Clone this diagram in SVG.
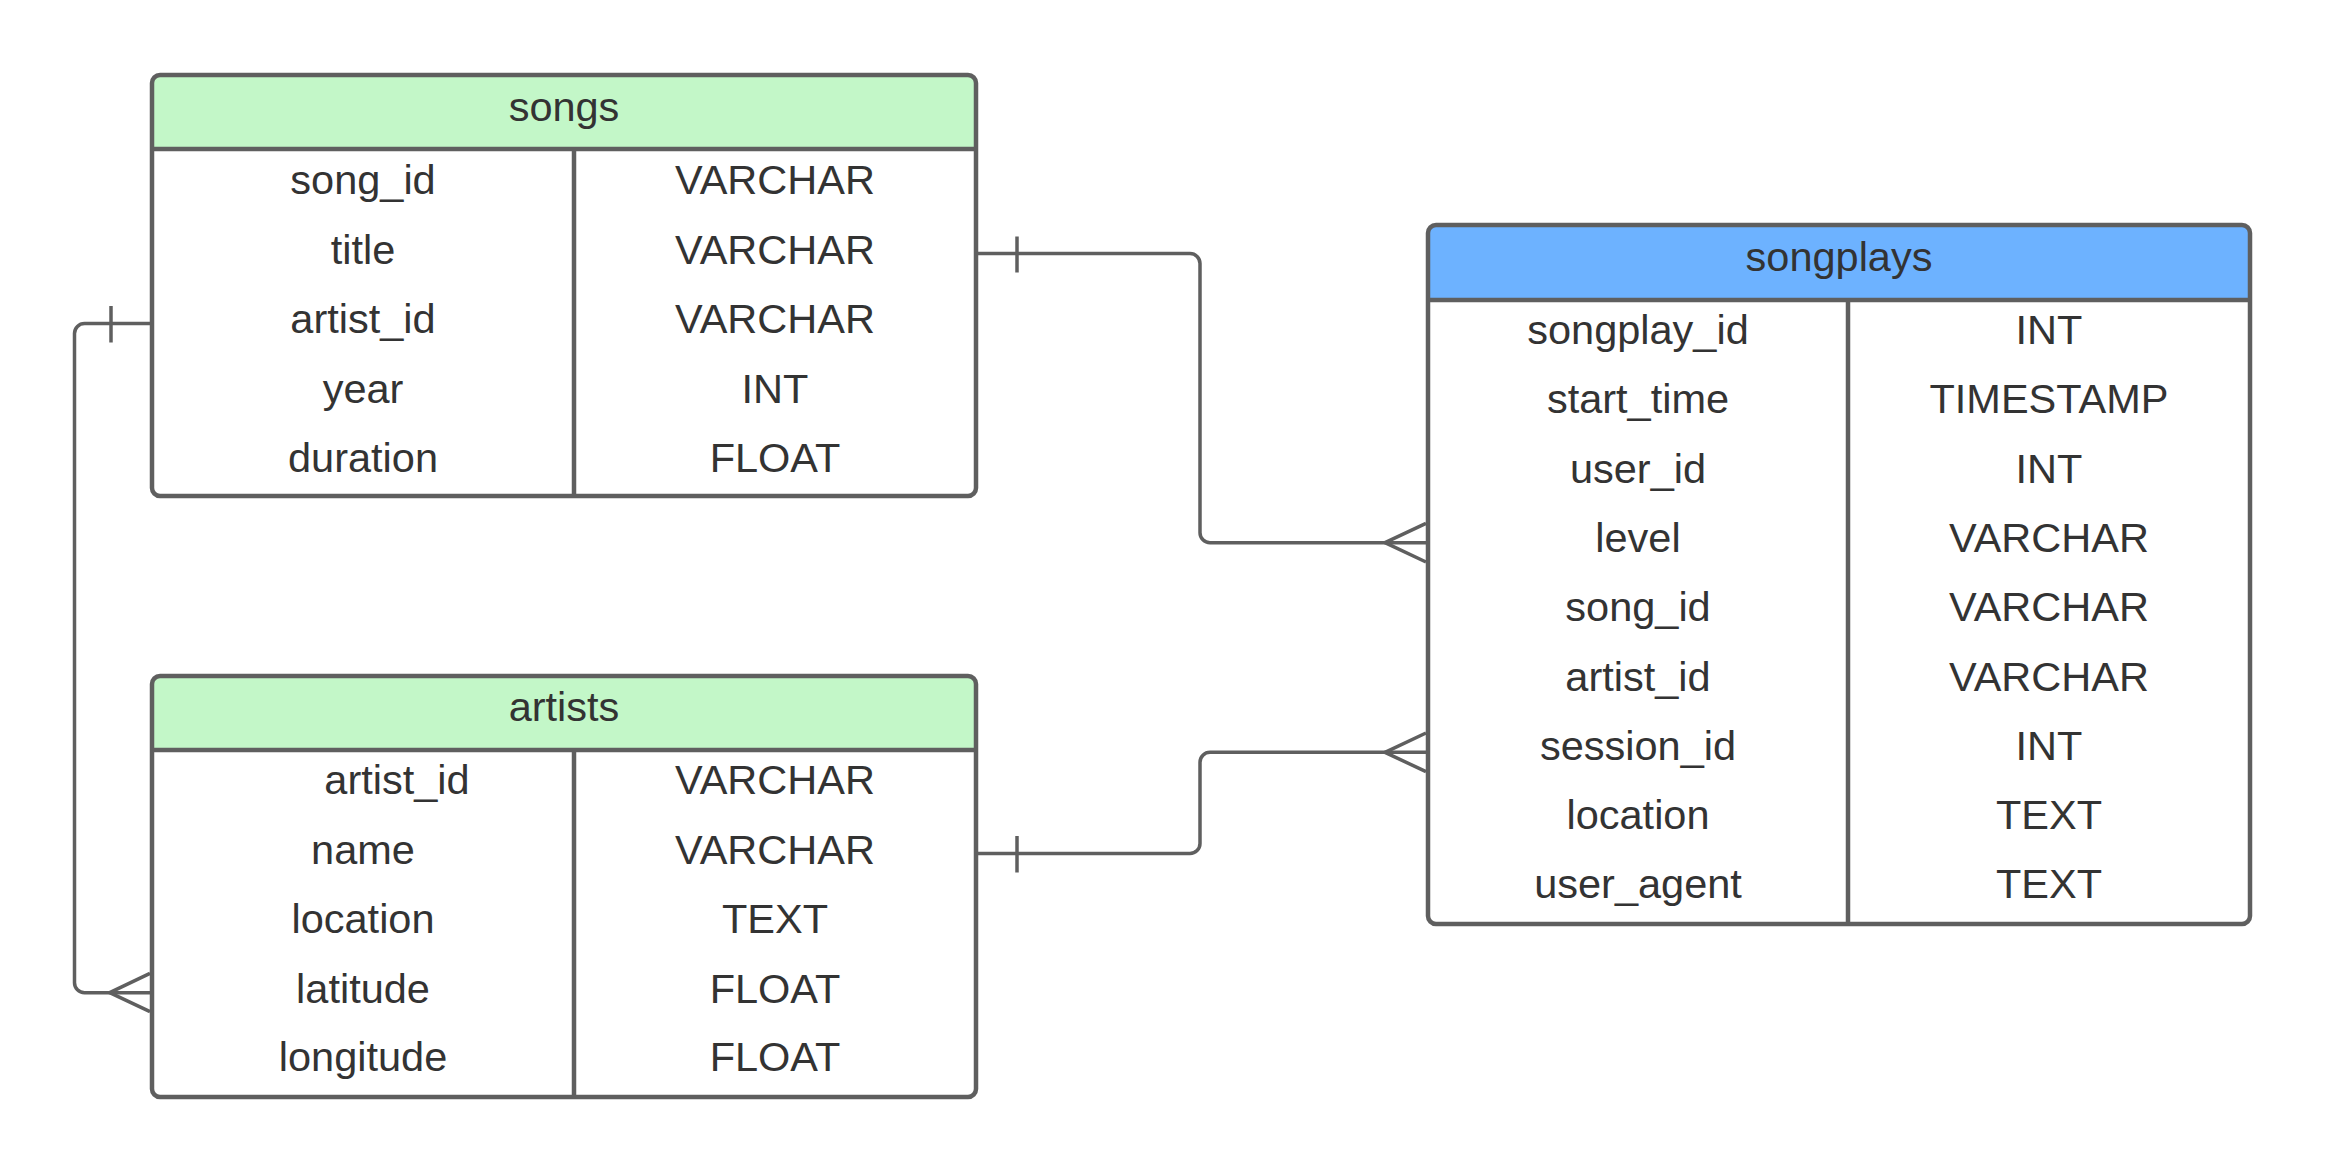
<svg xmlns="http://www.w3.org/2000/svg" width="2329" height="1172" viewBox="0 0 2329 1172">
<style>
.t{font-family:"Liberation Sans",Arial,sans-serif;font-size:41.5px;fill:#333333;text-anchor:middle}
.box{fill:none;stroke:#5f5f5f;stroke-width:4.5}
.ln{fill:none;stroke:#5f5f5f;stroke-width:4.5}
.cn{fill:none;stroke:#5f5f5f;stroke-width:3.5;stroke-linejoin:round}
</style>
<rect width="2329" height="1172" fill="#ffffff"/>
<g id="songs">
<rect x="152" y="75" width="824" height="421" rx="8" fill="#ffffff"/>
<path d="M152,149 V83 a8,8 0 0 1 8,-8 H968 a8,8 0 0 1 8,8 V149 Z" fill="#c3f7c8"/>
<rect class="box" x="152" y="75" width="824" height="421" rx="8"/>
<line class="ln" x1="152" y1="149" x2="976" y2="149"/>
<line class="ln" x1="574" y1="149" x2="574" y2="496"/>
<text class="t" x="564" y="121">songs</text>
<text class="t" x="363" y="194">song_id</text><text class="t" x="775" y="194">VARCHAR</text>
<text class="t" x="363" y="263.5">title</text><text class="t" x="775" y="263.5">VARCHAR</text>
<text class="t" x="363" y="333">artist_id</text><text class="t" x="775" y="333">VARCHAR</text>
<text class="t" x="363" y="402.5">year</text><text class="t" x="775" y="402.5">INT</text>
<text class="t" x="363" y="472">duration</text><text class="t" x="775" y="472">FLOAT</text>
</g>
<g id="artists">
<rect x="152" y="676" width="824" height="421" rx="8" fill="#ffffff"/>
<path d="M152,750 V684 a8,8 0 0 1 8,-8 H968 a8,8 0 0 1 8,8 V750 Z" fill="#c3f7c8"/>
<rect class="box" x="152" y="676" width="824" height="421" rx="8"/>
<line class="ln" x1="152" y1="750" x2="976" y2="750"/>
<line class="ln" x1="574" y1="750" x2="574" y2="1097"/>
<text class="t" x="564" y="721">artists</text>
<text class="t" x="397" y="794">artist_id</text><text class="t" x="775" y="794">VARCHAR</text>
<text class="t" x="363" y="863.5">name</text><text class="t" x="775" y="863.5">VARCHAR</text>
<text class="t" x="363" y="933">location</text><text class="t" x="775" y="933">TEXT</text>
<text class="t" x="363" y="1002.5">latitude</text><text class="t" x="775" y="1002.5">FLOAT</text>
<text class="t" x="363" y="1071">longitude</text><text class="t" x="775" y="1071">FLOAT</text>
</g>
<g id="songplays">
<rect x="1428" y="225" width="822" height="699" rx="8" fill="#ffffff"/>
<path d="M1428,300 V233 a8,8 0 0 1 8,-8 H2242 a8,8 0 0 1 8,8 V300 Z" fill="#6db2ff"/>
<rect class="box" x="1428" y="225" width="822" height="699" rx="8"/>
<line class="ln" x1="1428" y1="300" x2="2250" y2="300"/>
<line class="ln" x1="1848" y1="300" x2="1848" y2="924"/>
<text class="t" x="1839" y="271">songplays</text>
<text class="t" x="1638" y="344">songplay_id</text><text class="t" x="2049" y="344">INT</text>
<text class="t" x="1638" y="413.3">start_time</text><text class="t" x="2049" y="413.3">TIMESTAMP</text>
<text class="t" x="1638" y="482.6">user_id</text><text class="t" x="2049" y="482.6">INT</text>
<text class="t" x="1638" y="551.9">level</text><text class="t" x="2049" y="551.9">VARCHAR</text>
<text class="t" x="1638" y="621.2">song_id</text><text class="t" x="2049" y="621.2">VARCHAR</text>
<text class="t" x="1638" y="690.5">artist_id</text><text class="t" x="2049" y="690.5">VARCHAR</text>
<text class="t" x="1638" y="759.8">session_id</text><text class="t" x="2049" y="759.8">INT</text>
<text class="t" x="1638" y="829.1">location</text><text class="t" x="2049" y="829.1">TEXT</text>
<text class="t" x="1638" y="898.4">user_agent</text><text class="t" x="2049" y="898.4">TEXT</text>
</g>
<g id="connectors">
<path class="cn" d="M976,253.5 H1190 a10,10 0 0 1 10,10 V532.7 a10,10 0 0 0 10,10 H1426"/>
<line class="cn" x1="1017" y1="236.5" x2="1017" y2="272.5"/>
<path class="cn" d="M1426,523.3 L1385,542.7 L1426,562"/>
<path class="cn" d="M976,853.5 H1190 a10,10 0 0 0 10,-10 V762.3 a10,10 0 0 1 10,-10 H1426"/>
<line class="cn" x1="1017" y1="836" x2="1017" y2="872.5"/>
<path class="cn" d="M1426,733 L1385,752.3 L1426,771.7"/>
<path class="cn" d="M152,323.5 H84.5 a10,10 0 0 0 -10,10 V982.7 a10,10 0 0 0 10,10 H150"/>
<line class="cn" x1="111" y1="306" x2="111" y2="342.5"/>
<path class="cn" d="M150,973.3 L109.7,992.7 L150,1011.7"/>
</g>
</svg>
